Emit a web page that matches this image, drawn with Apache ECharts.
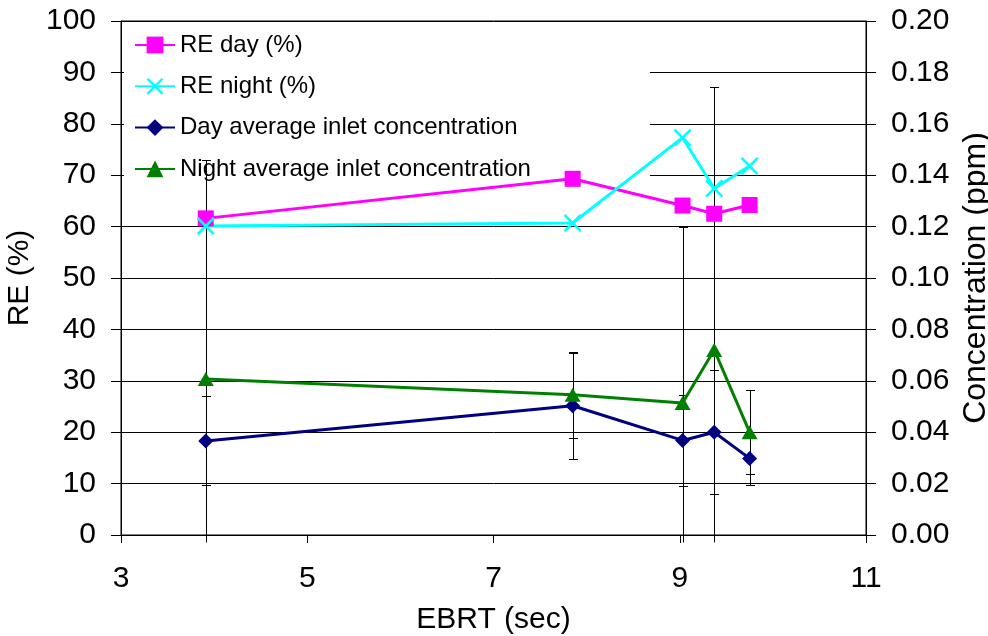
<!DOCTYPE html>
<html>
<head>
<meta charset="utf-8">
<script src="https://cdn.jsdelivr.net/npm/echarts@6/dist/echarts.min.js"></script>
<style>
  html, body { margin: 0; padding: 0; background: #fff; }
  #chart { width: 988px; height: 636px; }
</style>
</head>
<body>
<div id="chart"></div>
<script>
// EBRT (sec) of each test point
const ebrt = [3.91, 7.85, 9.03, 9.37, 9.75]
// removal efficiency (%)
const reDay = [61.6, 69.3, 64.1, 62.5, 64.2]
const reNight = [60.1, 60.7, 77.3, 67.4, 71.8]
// inlet concentration (ppm) and its error (+/-)
const dayConc = [0.0366, 0.0503, 0.0368, 0.0400, 0.0298]
const dayErr = [0.0173, 0.0207, 0.0178, 0.0241, 0.0103]
const nightConc = [0.0607, 0.0546, 0.0514, 0.0720, 0.0400]
const nightErr = [0.0852, 0.0168, 0.0685, 0.1022, 0.0163]

const names = ['RE day (%)', 'RE night (%)', 'Day average inlet concentration', 'Night average inlet concentration']
const font = "'Liberation Sans', Arial, sans-serif"
const concMax = 0.2

const crossPath = 'path://M0,1L1,0L5,4L9,0L10,1L6,5L10,9L9,10L5,6L1,10L0,9L4,5Z'

const pairs = (xs, ys) => xs.map((x, i) => [x, ys[i]])
const triples = (xs, ys, es) => xs.map((x, i) => [x, ys[i], es[i]])

// vertical error bar with caps, clipped to the right axis range
const errorBars = (params, api) => {
  const x = api.value(0)
  const v = api.value(1)
  const e = api.value(2)
  const hi = Math.min(v + e, concMax)
  const lo = Math.max(v - e, 0)
  const pHi = api.coord([x, hi])
  const pLo = api.coord([x, lo])
  const cx = Math.round(pHi[0]) + 0.5
  const yHi = Math.round(pHi[1]) + 0.5
  const yLo = Math.round(pLo[1]) + 0.5
  const half = 4.5
  const style = { stroke: '#000', lineWidth: 1 }
  const children = []
  const bottomY = lo === 0 ? yLo + 7 : yLo
  children.push({ type: 'line', shape: { x1: cx, y1: yHi, x2: cx, y2: bottomY }, style })
  if (hi < concMax) children.push({ type: 'line', shape: { x1: cx - half, y1: yHi, x2: cx + half, y2: yHi }, style })
  if (lo > 0) children.push({ type: 'line', shape: { x1: cx - half, y1: yLo, x2: cx + half, y2: yLo }, style })
  return { type: 'group', children }
}

const chart = echarts.init(document.getElementById('chart'))

chart.setOption({
  animation: false,
  backgroundColor: '#fff',
  textStyle: { fontFamily: font },
  grid: {
    left: 121, right: 122, top: 21, bottom: 101,
    outerBoundsMode: 'none',
    containLabel: false,
    show: true, borderColor: '#000', borderWidth: 1, backgroundColor: 'transparent'
  },
  legend: {
    orient: 'vertical',
    left: 124,
    top: 22,
    padding: [11, 119, 12, 10],
    backgroundColor: '#fff',
    itemWidth: 40,
    itemHeight: 21,
    itemGap: 17.3,
    textStyle: { fontSize: 24, color: '#000', fontFamily: font },
    data: names
  },
  xAxis: {
    type: 'value',
    min: 3, max: 11, interval: 2,
    name: 'EBRT (sec)',
    nameLocation: 'middle',
    nameGap: 70,
    nameTextStyle: { fontSize: 30, color: '#000', fontFamily: font },
    axisLine: { lineStyle: { color: '#000', width: 1 } },
    axisTick: { length: 8, lineStyle: { color: '#000' } },
    axisLabel: { fontSize: 30, color: '#000', margin: 29, fontFamily: font },
    splitLine: { show: false }
  },
  yAxis: [
    {
      type: 'value',
      min: 0, max: 100, interval: 10,
      name: 'RE (%)',
      nameLocation: 'middle',
      nameRotate: 90,
      nameGap: 70,
      nameTextStyle: { fontSize: 30, color: '#000', fontFamily: font },
      axisLine: { show: true, lineStyle: { color: '#000', width: 1 } },
      axisTick: { show: true, length: 10, lineStyle: { color: '#000' } },
      axisLabel: { fontSize: 30, color: '#000', margin: 25, fontFamily: font },
      splitLine: { show: true, lineStyle: { color: '#000', width: 1 } }
    },
    {
      type: 'value',
      position: 'right',
      min: 0, max: concMax, interval: 0.02,
      name: 'Concentration (ppm)',
      nameLocation: 'middle',
      nameRotate: 90,
      nameGap: 76,
      nameTextStyle: { fontSize: 32, color: '#000', fontFamily: font },
      axisLine: { show: true, lineStyle: { color: '#000', width: 1 } },
      axisTick: { show: true, length: 10, lineStyle: { color: '#000' } },
      axisLabel: { fontSize: 30, color: '#000', margin: 25, fontFamily: font, formatter: v => v.toFixed(2) },
      splitLine: { show: false }
    }
  ],
  series: [
    {
      name: names[0], type: 'line', yAxisIndex: 0, z: 6,
      data: pairs(ebrt, reDay),
      symbol: 'rect', symbolSize: 16,
      lineStyle: { color: '#FF00FF', width: 3 },
      itemStyle: { color: '#FF00FF' }
    },
    {
      name: names[1], type: 'line', yAxisIndex: 0, z: 6,
      data: pairs(ebrt, reNight),
      symbol: crossPath, symbolSize: 18,
      lineStyle: { color: '#00FFFF', width: 3 },
      itemStyle: { color: '#00FFFF' }
    },
    {
      name: names[2], type: 'line', yAxisIndex: 1, z: 6,
      data: pairs(ebrt, dayConc),
      symbol: 'diamond', symbolSize: 15,
      lineStyle: { color: '#000080', width: 3 },
      itemStyle: { color: '#000080' }
    },
    {
      name: names[3], type: 'line', yAxisIndex: 1, z: 6,
      data: pairs(ebrt, nightConc),
      symbol: 'triangle', symbolSize: [16, 14],
      lineStyle: { color: '#008000', width: 3 },
      itemStyle: { color: '#008000' }
    },
    {
      type: 'custom', yAxisIndex: 1, z: 5, silent: true,
      data: triples(ebrt, dayConc, dayErr),
      renderItem: errorBars,
      clip: false
    },
    {
      type: 'custom', yAxisIndex: 1, z: 5, silent: true,
      data: triples(ebrt, nightConc, nightErr),
      renderItem: errorBars,
      clip: false
    }
  ]
})

window.addEventListener('resize', () => chart.resize())
</script>
</body>
</html>
